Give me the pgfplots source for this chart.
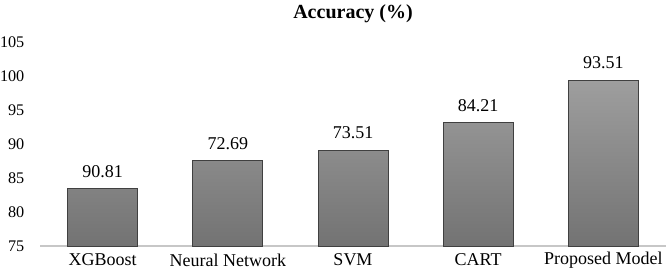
\documentclass[border=0pt]{standalone}
\usepackage{pgfplots}
\pgfplotsset{compat=1.18}
\usepackage{fontspec}
\setmainfont{Liberation Serif}
\begin{document}
\begin{tikzpicture}
\useasboundingbox (0,0) rectangle (666bp,278bp);
\begin{axis}[
  at={(40bp,32bp)}, anchor=south west,
  scale only axis, width=626bp, height=204bp,
  xmin=-0.5, xmax=4.5, ymin=75, ymax=105,
  ytick={75,80,...,105},
  xtick={0,1,2,3,4},
  xticklabels={XGBoost,Neural Network,SVM,CART,Proposed Model},
  axis x line*=bottom, axis y line*=left,
  y axis line style={draw=none},
  x axis line style={draw=black!22, line width=1.6bp, -},
  major tick length=0pt,
  tick label style={font=\fontsize{18bp}{20bp}\selectfont},
  /pgf/number format/assume math mode=true,
  yticklabel style={font=\fontsize{16.2bp}{18bp}\selectfont, anchor=east, inner sep=0pt, xshift=-15.5bp},
  xticklabel style={anchor=center, yshift=-14bp},
  title={\bfseries Accuracy (\%)},
  title style={font=\fontsize{20bp}{22bp}\selectfont, at={(0.5,1)}, anchor=center, yshift=22bp},
  clip=false,
]
\addplot[ybar, bar width=70bp, draw=black!75, line width=0.8bp,
  top color=black!38, bottom color=black!55,
  nodes near coords, point meta=explicit symbolic,
  every node near coord/.style={font=\fontsize{18bp}{20bp}\selectfont, anchor=center, yshift=17bp, text=black}]
  coordinates {
  (0,83.4) [90.81]
  (1,87.6) [72.69]
  (2,89.1) [73.51]
  (3,93.2) [84.21]
  (4,99.4) [93.51]
};
\end{axis}
\end{tikzpicture}
\end{document}
